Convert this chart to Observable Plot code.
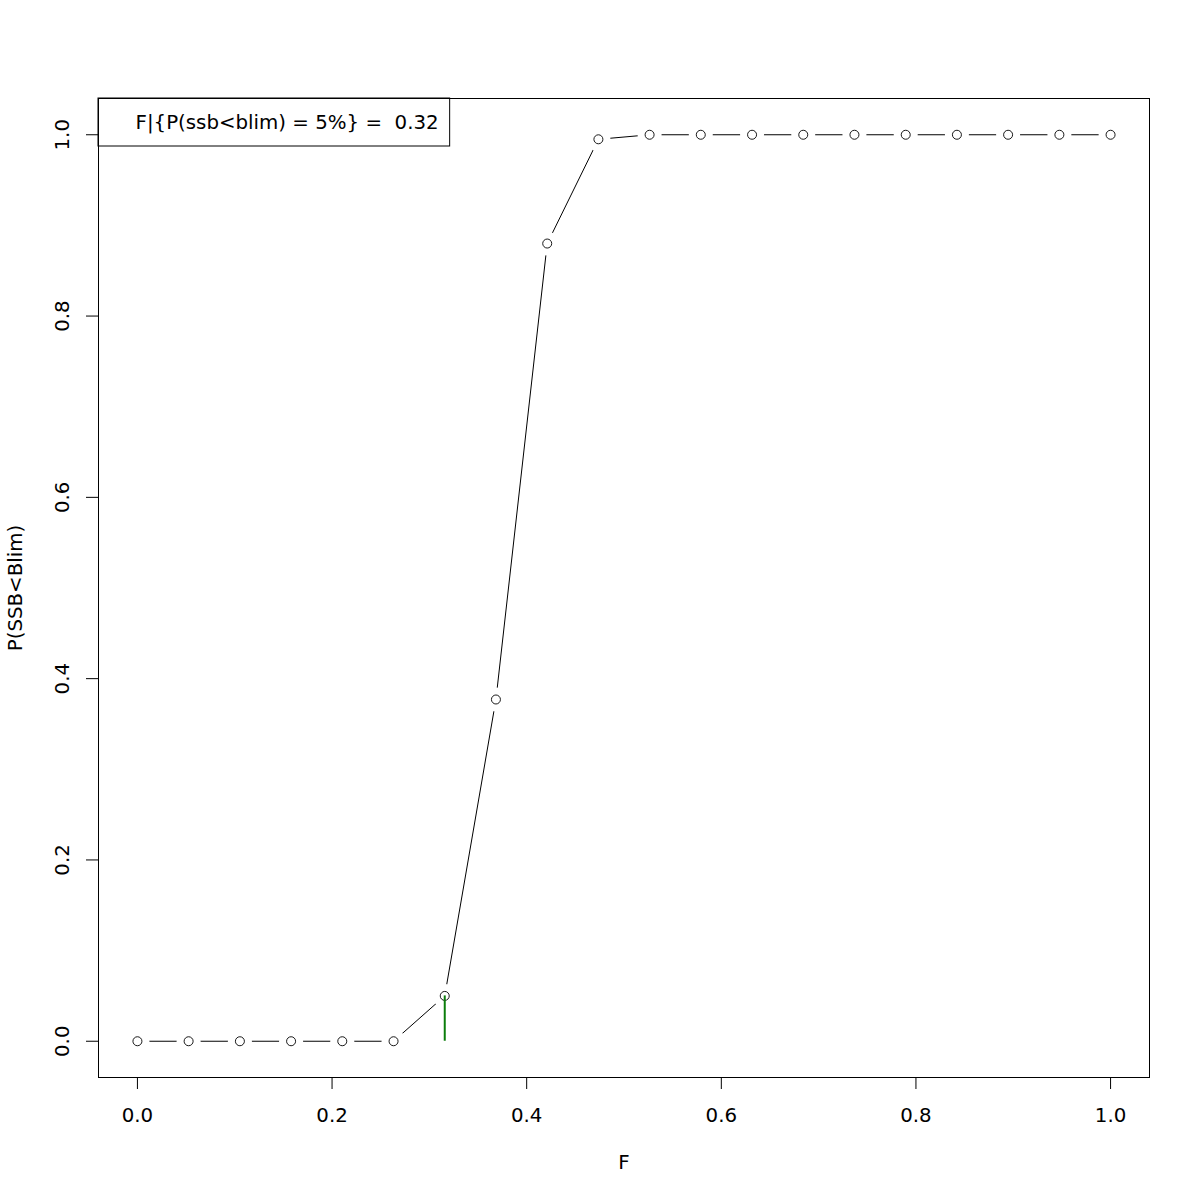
<!DOCTYPE html>
<html><head><meta charset="utf-8">
<script src="https://cdn.jsdelivr.net/npm/d3@7"></script>
<script src="https://cdn.jsdelivr.net/npm/@observablehq/plot@0.6"></script>
<style>body{margin:0;background:#fff} svg{font-family:"DejaVu Sans"}</style>
</head><body><div id="chart"></div>
<script>
const Fvals = [0, 0.0526, 0.1053, 0.1579, 0.2105, 0.2632, 0.3158, 0.3684, 0.4211, 0.4737, 0.5263, 0.5789, 0.6316, 0.6842, 0.7368, 0.7895, 0.8421, 0.8947, 0.9474, 1];
const Pvals = [0, 0, 0, 0, 0, 0, 0.05, 0.377, 0.88, 0.995, 1, 1, 1, 1, 1, 1, 1, 1, 1, 1];
const xTicks = [0, 0.2, 0.4, 0.6, 0.8, 1.0];
const yTicks = [0, 0.2, 0.4, 0.6, 0.8, 1.0];
const fTarget = [0.3158];
const pTarget = 0.05;
const legendLabel = ["F|{P(ssb<blim) = 5%} =  0.32"];
const xLabel = ["F"];
const yLabel = ["P(SSB<Blim)"];

const data = Fvals.map((f, i) => ({F: f, P: Pvals[i]}));
const fs = 19.8;

const plot = Plot.plot({
  width: 1200, height: 1200,
  marginLeft: 98, marginRight: 51, marginTop: 98, marginBottom: 123,
  style: {fontFamily: "DejaVu Sans", fontSize: fs + "px", background: "#fff", color: "#000"},
  x: {domain: [-0.04, 1.04]},
  y: {domain: [-0.04, 1.04]},
  marks: [
    Plot.axisX(xTicks, {tickSize: 12, tickPadding: 18, tickFormat: d => d.toFixed(1), label: null, fontSize: fs, stroke: "#000", color: "#000"}),
    Plot.axisY(yTicks, {tickSize: 12, tickPadding: 18, tickRotate: -90, tickFormat: d => d.toFixed(1), label: null, fontSize: fs, stroke: "#000"}),
    Plot.line(data, {x: "F", y: "P", stroke: "#000", strokeWidth: 1}),
    Plot.dot(data, {x: "F", y: "P", r: 12, fill: "#fff", stroke: null}),
    Plot.dot(data, {x: "F", y: "P", r: 4.5, fill: "none", stroke: "#000", strokeWidth: 0.9}),
    Plot.ruleX(fTarget, {y1: 0, y2: pTarget, stroke: "#0b7d0b", strokeWidth: 2}),
    Plot.frame({stroke: "#000"}),
    Plot.text(xLabel, {frameAnchor: "bottom", dy: 91, fontSize: fs, fill: "#000"}),
    Plot.text(yLabel, {frameAnchor: "left", dx: -83, rotate: -90, textAnchor: "middle", fontSize: fs, fill: "#000"}),
    Plot.text(legendLabel, {frameAnchor: "top-left", dx: 37, dy: 24, textAnchor: "start", lineAnchor: "middle", fontSize: fs, fill: "#000", className: "legend-text"})
  ]
});
document.getElementById("chart").appendChild(plot);

// legend box around the legend text, anchored at the frame's top-left corner
const svg = d3.select(plot);
const t = svg.select(".legend-text text");
t.style("white-space", "pre");
const svgRect = plot.getBoundingClientRect();
const tr = t.node().getBoundingClientRect();
const x0 = 98, y0 = 98;
svg.append("rect")
  .attr("x", x0).attr("y", y0)
  .attr("width", tr.right - svgRect.left + 11 - x0)
  .attr("height", 48)
  .attr("fill", "none").attr("stroke", "#000").attr("stroke-width", 1);
</script>
</body></html>
